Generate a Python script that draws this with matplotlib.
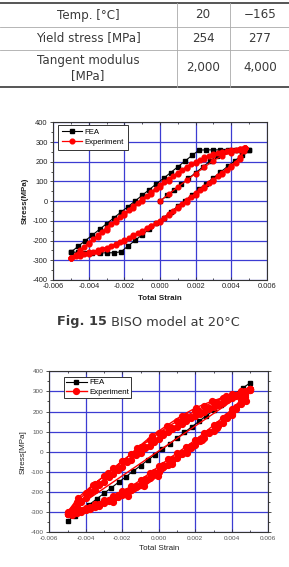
import matplotlib
matplotlib.use('Agg')
from matplotlib import pyplot as plt
from matplotlib.ticker import MultipleLocator, FormatStrFormatter

plt.rcParams['axes.unicode_minus'] = False

# ---- table ----
table_head = ['Temp. [°C]', '20', '\u2212165']
table_yield = ['Yield stress [MPa]', '254', '277']
table_tangent = ['Tangent modulus\n[MPa]', '2,000', '4,000']

# ---- 20 C chart ----
grid_04 = [-0.0050, -0.0046, -0.0042, -0.0038, -0.0034, -0.0030, -0.0026, -0.0022, -0.0018,
           -0.0014, -0.0010, -0.0006, -0.0002, 0.0002, 0.0006, 0.0010, 0.0014, 0.0018,
           0.0022, 0.0026, 0.0030, 0.0034, 0.0038, 0.0042, 0.0046, 0.0050]

fea20_init_x = [0.0, 0.0004, 0.0008, 0.0012, 0.0016, 0.0020, 0.0024, 0.0028, 0.0032, 0.0036,
                0.0040, 0.0044, 0.0048]
fea20_init_y = [0, 29, 58, 86, 115, 144, 173, 202, 230, 254, 256, 258, 260]
fea20_up = [-258, -229, -200, -172, -143, -114, -85, -56, -28, 1, 30, 59, 88, 116, 145, 174,
            203, 232, 259, 260, 260, 260, 261, 261, 262, 262]
fea20_down = [-258, -260, -262, -263, -263, -262, -262, -257, -228, -199, -170, -142, -113, -84,
              -55, -26, 2, 31, 60, 89, 118, 147, 176, 204, 233, 262]

strain20_a = [-0.0050, -0.0045, -0.0040, -0.0035, -0.0030, -0.0025, -0.0020, -0.0015, -0.0010,
              -0.0005, 0.0000, 0.0005, 0.0010, 0.0015, 0.0020, 0.0025, 0.0030, 0.0035, 0.0040,
              0.0045, 0.0048]
strain20_b = [-0.00475, -0.00425, -0.00375, -0.00325, -0.00275, -0.00225, -0.00175, -0.00125,
              -0.00075, -0.00025, 0.00025, 0.00075, 0.00125, 0.00175, 0.00225, 0.00275, 0.00325,
              0.00375, 0.00425, 0.00475]
exp20_init_x = [0.0, 0.0005, 0.0010, 0.0015, 0.0020, 0.0025, 0.0030, 0.0035, 0.0040, 0.0045, 0.0048]
exp20_init_y = [0, 36, 72, 106, 140, 172, 206, 230, 246, 259, 268]
exp20_up1 = [-290, -250, -210, -172, -134, -97, -61, -25, 10, 46, 80, 113, 144, 174, 201, 222,
             238, 250, 258, 265, 270]
exp20_lo1 = [-290, -272, -260, -250, -236, -218, -197, -174, -150, -125, -100, -66, -31, 4, 39,
             74, 109, 143, 178, 222, 270]
exp20_up2 = [-272, -232, -193, -155, -117, -80, -44, -8, 27, 62, 96, 128, 158, 186, 210, 229,
             243, 253, 261, 268]
exp20_lo2 = [-280, -266, -256, -243, -227, -208, -186, -162, -137, -112, -83, -48, -13, 22, 57,
             92, 126, 160, 196, 252]
exp20_up3 = [-290, -256, -218, -181, -144, -107, -71, -35, 0, 35, 70, 104, 136, 166, 194, 216,
             233, 246, 255, 263, 268]
exp20_lo3 = [-290, -280, -268, -256, -242, -223, -201, -178, -154, -128, -104, -70, -36, -2, 33,
             68, 103, 137, 172, 216, 268]

# ---- -165 C chart ----
fea165_y = [-344, -317, -289, -262, -234, -206, -179, -151, -124, -96, -69, -41, -14, 14, 41, 69,
            96, 124, 151, 179, 206, 234, 262, 289, 317, 342]

outer_up_x = [-0.0050, -0.00443, -0.0036, -0.00278, -0.00196, -0.00118, -0.00039, 0.00043,
              0.00126, 0.00205, 0.0029, 0.00368, 0.0045, 0.0050]
outer_up_y = [-300, -229, -163, -105, -47, 19, 79, 130, 180, 220, 251, 275, 295, 312]
outer_lo_x = [0.0050, 0.0048, 0.0040, 0.00318, 0.00235, 0.00153, 0.0007, -0.00003, -0.00081,
              -0.00167, -0.0025, -0.0033, -0.0042, -0.0050]
outer_lo_y = [312, 251, 184, 118, 60, -6, -62, -120, -172, -218, -248, -270, -290, -305]

strain165_a = [-0.0050, -0.0045, -0.0040, -0.0035, -0.0030, -0.0025, -0.0020, -0.0015, -0.0010,
               -0.0005, 0.0000, 0.0005, 0.0010, 0.0015, 0.0020, 0.0025, 0.0030, 0.0035, 0.0040,
               0.0045, 0.0050]
strain165_b = strain20_b
exp165_up1 = [-310, -250, -204, -160, -120, -82, -45, -10, 25, 60, 94, 124, 152, 178, 203, 226,
              247, 267, 286, 302, 314]
exp165_lo1 = [-310, -302, -290, -274, -256, -236, -215, -192, -164, -131, -98, -65, -33, -1, 32,
              68, 105, 145, 188, 240, 314]
exp165_up2 = [-288, -242, -199, -158, -119, -82, -46, -11, 24, 58, 91, 120, 147, 173, 197, 220,
              241, 262, 281, 300]
exp165_lo2 = [-306, -292, -276, -258, -238, -216, -194, -168, -136, -102, -68, -36, -4, 28, 63,
              100, 138, 178, 224, 282]
exp165_up3 = [-310, -272, -230, -188, -148, -110, -74, -40, -5, 30, 65, 96, 124, 151, 177, 200,
              222, 244, 266, 286, 308]
exp165_lo3 = [-310, -294, -277, -259, -240, -218, -195, -172, -140, -106, -72, -38, -6, 26, 59,
              95, 132, 170, 211, 258, 308]
exp165_up4 = [-296, -250, -207, -166, -126, -89, -53, -18, 17, 51, 84, 113, 140, 166, 190, 213,
              234, 255, 275, 294]
exp165_lo4 = [-312, -298, -283, -265, -245, -223, -201, -176, -144, -110, -76, -44, -12, 20, 55,
              91, 129, 168, 214, 270]


def loop_path(cycles):
    xs, ys = [], []
    for grid, up, lo in cycles:
        xs += grid[::-1] + grid
        ys += lo[::-1] + up
    return xs, ys


W, H = 289, 567
fig = plt.figure(figsize=(W / 100, H / 100), dpi=100)

# page overlay in pixel coordinates
bg = fig.add_axes([0, 0, 1, 1])
bg.set_xlim(0, W)
bg.set_ylim(H, 0)
bg.axis('off')

txt = '#3a3a3a'
bg.plot([0, W], [3, 3], color='#555555', lw=1.4)
bg.plot([0, W], [87, 87], color='#555555', lw=1.4)
bg.plot([0, W], [26.5, 26.5], color='#aaaaaa', lw=0.6)
bg.plot([0, W], [49.5, 49.5], color='#aaaaaa', lw=0.6)
bg.plot([177, 177], [3, 87], color='#aaaaaa', lw=0.6)
bg.plot([230, 230], [3, 87], color='#aaaaaa', lw=0.6)
col_x = [88, 203, 260]
for row, ypos in zip([table_head, table_yield, table_tangent], [15, 38, 68]):
    for cx, s in zip(col_x, row):
        bg.text(cx, ypos, s, ha='center', va='center', fontsize=8.6, color=txt,
                linespacing=1.25)


def caption(label, rest, ypos):
    renderer = fig.canvas.get_renderer()
    t1 = bg.text(0, ypos, label, fontsize=9.3, weight='bold', color=txt, va='center')
    t2 = bg.text(0, ypos, ' ' + rest, fontsize=9.3, color=txt, va='center')
    w1 = t1.get_window_extent(renderer).width
    w2 = t2.get_window_extent(renderer).width
    x0 = 148 - (w1 + w2) / 2
    t1.set_x(x0)
    t2.set_x(x0 + w1)


caption('Fig. 15', 'BISO model at 20°C', 322)


def make_axes(left, top, right, bottom):
    return fig.add_axes([left / W, 1 - bottom / H, (right - left) / W, (bottom - top) / H])


def style_axes(ax, bold, tick_size, tick_color, ylabel):
    ax.set_xlim(-0.006, 0.006)
    ax.set_ylim(-400, 400)
    ax.xaxis.set_major_locator(MultipleLocator(0.002))
    ax.xaxis.set_minor_locator(MultipleLocator(0.001))
    ax.yaxis.set_major_locator(MultipleLocator(100))
    ax.yaxis.set_minor_locator(MultipleLocator(50))
    ax.xaxis.set_major_formatter(FormatStrFormatter('%.3f'))
    ax.grid(True, which='major', color='#3c3cd2', lw=0.9)
    ax.set_axisbelow(True)
    for sp in ax.spines.values():
        sp.set_color('#333333')
        sp.set_linewidth(0.8)
    ax.tick_params(axis='x', which='both', direction='in', top=True, labelsize=tick_size,
                   labelcolor=tick_color, pad=2.5, color='#333333', width=0.6)
    ax.tick_params(axis='y', which='both', direction='out', right=False, labelsize=tick_size,
                   labelcolor=tick_color, pad=1.5, color='#333333', width=0.6)
    ax.tick_params(which='major', length=2.5)
    ax.tick_params(which='minor', length=1.5)
    for lab in ax.get_xticklabels() + ax.get_yticklabels():
        lab.set_family('Liberation Sans')
    w = 'bold' if bold else 'normal'
    ax.set_xlabel('Total Strain', fontsize=5.8, weight=w, family='Liberation Sans',
                  color='#222222', labelpad=3)
    ax.set_ylabel(ylabel, fontsize=5.8, weight=w, family='Liberation Sans',
                  color='#222222', labelpad=3)


# ---- chart 1 ----
ax1 = make_axes(53.3, 122.3, 266.7, 280)
fea20_x = fea20_init_x + grid_04[::-1] + grid_04
fea20_y = fea20_init_y + fea20_down[::-1] + fea20_up
exp20_x, exp20_y = loop_path([(strain20_a, exp20_up1, exp20_lo1),
                              (strain20_b, exp20_up2, exp20_lo2),
                              (strain20_a, exp20_up3, exp20_lo3)])
exp20_x = exp20_init_x + exp20_x
exp20_y = exp20_init_y + exp20_y
ax1.plot(fea20_x, fea20_y, color='black', lw=0.8, marker='s', ms=2.6, label='FEA')
ax1.plot(exp20_x, exp20_y, color='#ff0000', lw=0.9, marker='o', ms=3.4, label='Experiment')
style_axes(ax1, True, 5.4, '#222222', 'Stress(MPa)')
leg = ax1.legend(loc='upper left', bbox_to_anchor=(0.022, 0.985),
                 prop={'family': 'Liberation Sans', 'size': 5.6}, fancybox=False,
                 edgecolor='#333333', framealpha=1, borderpad=0.5, handlelength=2.6,
                 handletextpad=0.3, labelspacing=0.35, borderaxespad=0)
leg.get_frame().set_linewidth(0.7)

# ---- chart 2 ----
ax2 = make_axes(49.3, 371.3, 268.3, 532.3)
exp165_x = outer_up_x + outer_lo_x
exp165_y = outer_up_y + outer_lo_y
cx, cy = loop_path([(strain165_a, exp165_up1, exp165_lo1),
                    (strain165_b, exp165_up2, exp165_lo2),
                    (strain165_a, exp165_up3, exp165_lo3),
                    (strain165_b, exp165_up4, exp165_lo4)])
exp165_x += cx
exp165_y += cy
ax2.plot(grid_04, fea165_y, color='black', lw=0.8, marker='s', ms=3.4, label='FEA')
ax2.plot(exp165_x, exp165_y, color='#ff0000', lw=1.0, marker='o', ms=4.2, label='Experiment')
style_axes(ax2, False, 4.6, '#555555', 'Stress[MPa]')
ax2.tick_params(axis='y', which='both', right=True)
leg2 = ax2.legend(loc='upper left', bbox_to_anchor=(0.067, 0.965),
                  prop={'family': 'Liberation Sans', 'size': 5.7}, fancybox=False,
                  edgecolor='#333333', framealpha=1, borderpad=0.25, handlelength=2.6,
                  handletextpad=0.3, labelspacing=0.2, borderaxespad=0)
leg2.get_frame().set_linewidth(0.7)

fig.savefig('out.png', dpi=100)
plt.close(fig)
